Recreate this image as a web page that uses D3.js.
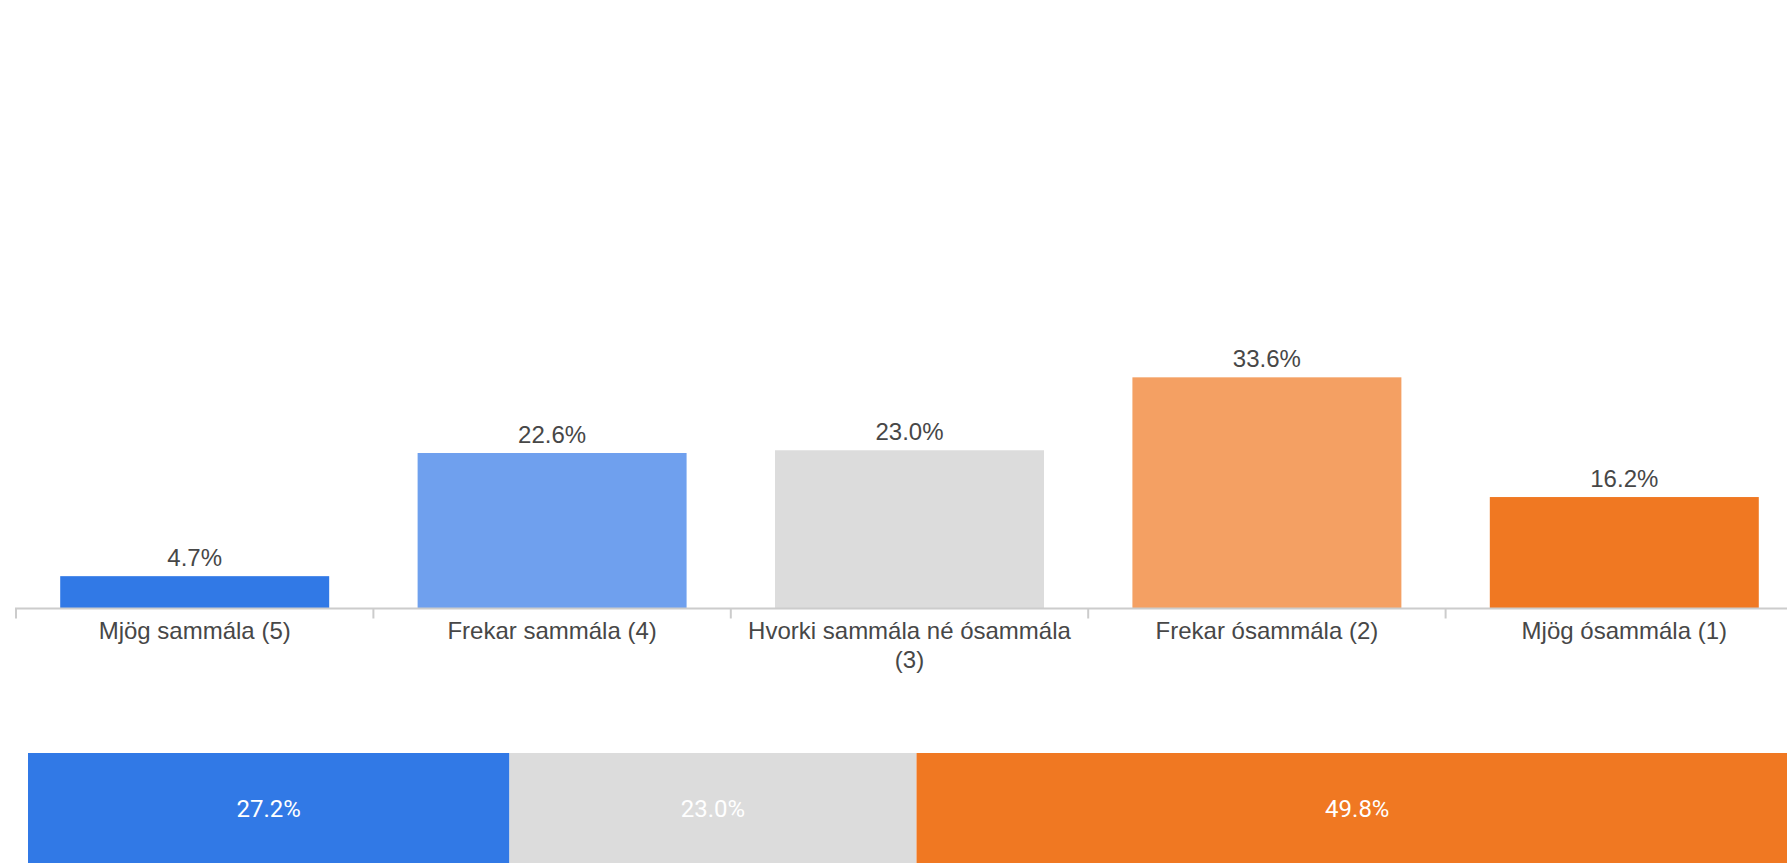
<!DOCTYPE html>
<html>
<head>
<meta charset="utf-8">
<script src="https://cdn.jsdelivr.net/npm/d3@7"></script>
<style>
  html, body { margin: 0; padding: 0; background: #fff; overflow: hidden; }
  svg { display: block; }
</style>
</head>
<body>
<div id="chart"></div>
<script>
// answer categories and their share (%)
var categories = ['Mjög sammála (5)', 'Frekar sammála (4)', 'Hvorki sammála né ósammála (3)', 'Frekar ósammála (2)', 'Mjög ósammála (1)'];
var values = [4.7, 22.6, 23.0, 33.6, 16.2];
var barColors = ['#3179e6', '#6fa0ee', '#dcdcdc', '#f4a063', '#f07822'];

// summary bar: agree / neutral / disagree
var groups = ['agree', 'neutral', 'disagree'];
var groupValues = [27.2, 23.0, 49.8];
var groupColors = ['#3179e6', '#dcdcdc', '#f07822'];

var width = 1787, height = 863;
var axisY = 608.5;
var textColor = '#474747';

var svg = d3.select('#chart').append('svg')
    .attr('width', width)
    .attr('height', height);

var x = d3.scaleBand()
    .domain(categories)
    .range([16, 1803])
    .paddingInner(0.2474)
    .paddingOuter(0.1237);

var y = d3.scaleLinear()
    .domain([0, 40])
    .range([axisY, axisY - 275.2]);

// bars
svg.append('g').selectAll('rect')
    .data(categories)
    .enter().append('rect')
    .attr('x', function(d){ return x(d); })
    .attr('y', function(d, i){ return y(values[i]); })
    .attr('width', x.bandwidth())
    .attr('height', function(d, i){ return y(0) - y(values[i]); })
    .attr('fill', function(d, i){ return barColors[i]; });

// value labels
svg.append('g').selectAll('text')
    .data(categories)
    .enter().append('text')
    .attr('x', function(d){ return x(d) + x.bandwidth() / 2; })
    .attr('y', function(d, i){ return y(values[i]) - 10; })
    .attr('text-anchor', 'middle')
    .style('font-family', 'Arial, "Liberation Sans", sans-serif')
    .style('font-size', '24px')
    .attr('fill', textColor)
    .text(function(d, i){ return values[i].toFixed(1) + '%'; });

// x axis: baseline and ticks at band edges
var axis = svg.append('g');
axis.append('line')
    .attr('x1', 15).attr('x2', width)
    .attr('y1', axisY).attr('y2', axisY)
    .attr('stroke', '#cccccc')
    .attr('stroke-width', 2);

var step = x.step();
axis.selectAll('line.tick')
    .data(categories)
    .enter().append('line')
    .classed('tick', true)
    .attr('x1', function(d){ return x(d) - step * x.paddingInner() / 2; })
    .attr('x2', function(d){ return x(d) - step * x.paddingInner() / 2; })
    .attr('y1', axisY).attr('y2', axisY + 10)
    .attr('stroke', '#cccccc')
    .attr('stroke-width', 2);

var labels = axis.selectAll('text')
    .data(categories)
    .enter().append('text')
    .attr('x', function(d){ return x(d) + x.bandwidth() / 2; })
    .attr('y', 639)
    .attr('text-anchor', 'middle')
    .style('font-family', 'Arial, "Liberation Sans", sans-serif')
    .style('font-size', '24px')
    .attr('fill', textColor);

// wrap long category names
labels.each(function(d){
    var el = d3.select(this);
    var words = d.split(' ');
    var line = [];
    var cx = x(d) + x.bandwidth() / 2;
    var tspan = el.append('tspan').attr('x', cx);
    words.forEach(function(w){
        line.push(w);
        tspan.text(line.join(' '));
        if (tspan.node().getComputedTextLength() > 330 && line.length > 1){
            line.pop();
            tspan.text(line.join(' '));
            line = [w];
            tspan = el.append('tspan').attr('x', cx).attr('dy', 29).text(w);
        }
    });
});

// stacked summary bar
var xs = d3.scaleLinear().domain([0, 100]).range([28, 1798]);
var starts = [];
var acc = 0;
groupValues.forEach(function(v){ starts.push(acc); acc += v; });

var stack = svg.append('g');
stack.selectAll('rect')
    .data(groups)
    .enter().append('rect')
    .attr('x', function(d, i){ return xs(starts[i]); })
    .attr('y', 753)
    .attr('width', function(d, i){ return xs(starts[i] + groupValues[i]) - xs(starts[i]); })
    .attr('height', 115)
    .attr('fill', function(d, i){ return groupColors[i]; });

stack.selectAll('text')
    .data(groups)
    .enter().append('text')
    .attr('x', function(d, i){ return (xs(starts[i]) + xs(starts[i] + groupValues[i])) / 2; })
    .attr('y', 817)
    .attr('text-anchor', 'middle')
    .style('font-family', 'Roboto, Arial, sans-serif')
    .style('font-size', '24px')
    .attr('fill', '#ffffff')
    .text(function(d, i){ return groupValues[i].toFixed(1) + '%'; });
</script>
</body>
</html>
